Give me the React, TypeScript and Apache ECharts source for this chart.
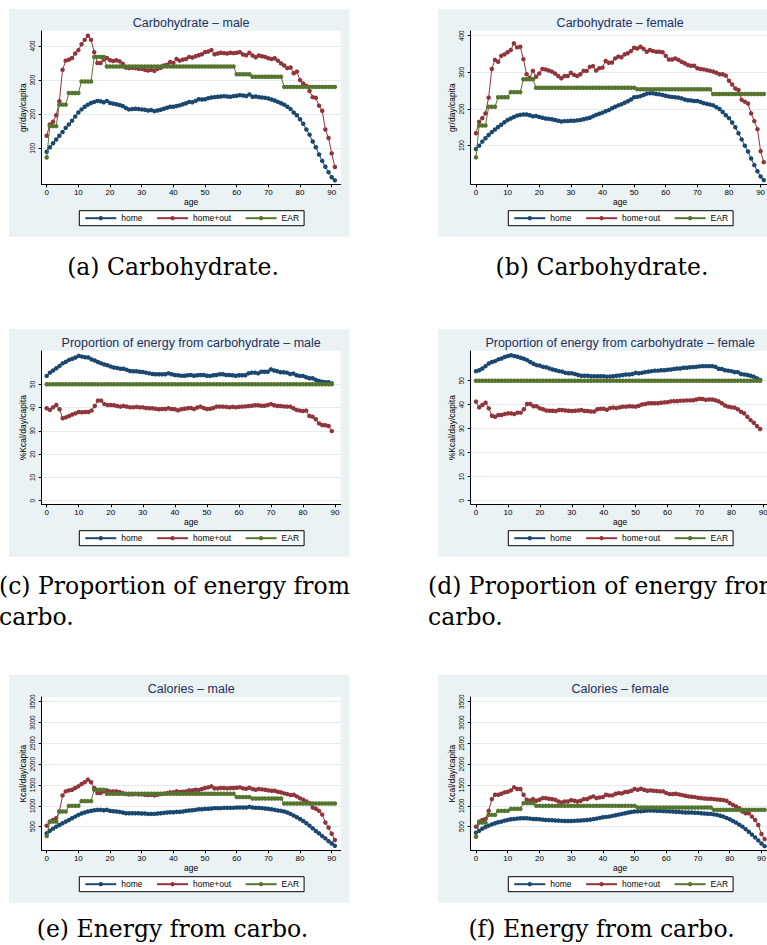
import React, { useEffect, useRef } from "react";
import * as echarts from "echarts";

// ---------------- DATA ----------------
const AGES = [0,1,2,3,4,5,6,7,8,9,10,11,12,13,14,15,16,17,18,19,20,21,22,23,24,25,26,27,28,29,30,31,32,33,34,35,36,37,38,39,40,41,42,43,44,45,46,47,48,49,50,51,52,53,54,55,56,57,58,59,60,61,62,63,64,65,66,67,68,69,70,71,72,73,74,75,76,77,78,79,80,81,82,83,84,85,86,87,88,89,90,91];
const X_TICKS = [0,10,20,30,40,50,60,70,80,90];
const Y_TICKS_CARB = [100,200,300,400];
const Y_TICKS_PROP = [0,10,20,30,40,50];
const Y_TICKS_KCAL = [500,1000,1500,2000,2500,3000,3500];
const LEGEND_NAMES = ["home","home+out","EAR"];

// (a) Carbohydrate - male (g/day/capita)
const HOME_A = [90,103,115,126,137,148,160,170,181,193,205,214,222,228,233,236,239,238,235,239,233,231,229,227,224,218,214,215,216,215,214,213,211,212,209,211,213,216,219,222,222,224,226,229,232,236,235,239,244,243,244,247,249,250,251,252,253,252,251,253,254,256,255,253,258,251,252,250,249,248,246,243,240,236,232,228,222,215,205,197,185,172,155,140,120,103,82,63,46,30,15,6];
const OUT_A = [137,170,178,197,238,330,357,360,365,378,388,405,418,430,418,382,350,350,360,365,358,356,358,355,348,337,335,336,335,333,333,330,328,330,327,333,336,343,345,353,350,362,357,360,362,368,366,370,373,376,382,384,388,376,378,380,379,378,380,379,380,382,375,373,380,372,367,372,370,368,364,362,364,357,349,343,335,337,320,325,300,290,283,268,250,248,225,210,155,130,85,45];
const EAR_A = [73,165,165,165,228,228,228,262,262,262,262,296,296,296,296,368,368,368,368,340,340,340,340,340,340,340,340,340,340,340,340,340,340,340,340,340,340,340,340,340,340,340,340,340,340,340,340,340,340,340,340,340,340,340,340,340,340,340,340,340,317,317,317,317,317,310,310,310,310,310,310,310,310,310,310,280,280,280,280,280,280,280,280,280,280,280,280,280,280,280,280,280];

// (b) Carbohydrate - female
const HOME_B = [91,100,111,120,129,137,144,151,157,164,170,174,178,182,184,185,185,183,180,181,178,176,174,173,172,170,168,166,167,167,168,168,169,170,172,174,176,180,184,187,190,194,197,202,206,210,213,217,221,226,232,233,235,238,242,243,243,241,240,238,236,234,233,232,231,229,226,224,223,222,222,219,216,214,212,210,205,200,192,183,175,163,150,134,117,100,84,65,47,30,16,6];
const OUT_B = [134,165,175,188,231,309,334,329,345,349,355,361,379,368,370,336,295,285,304,288,297,309,308,305,302,297,290,284,290,290,299,293,290,295,304,304,315,317,305,311,313,331,326,327,338,343,341,349,352,358,367,365,370,364,356,361,358,356,356,355,345,335,335,338,334,329,325,320,318,318,311,309,308,306,304,302,299,295,295,291,277,267,256,252,225,220,215,188,167,145,85,55];
const EAR_B = [68,155,155,155,206,206,206,232,232,232,232,246,246,246,246,281,281,281,281,258,258,258,258,258,258,258,258,258,258,258,258,258,258,258,258,258,258,258,258,258,258,258,258,258,258,258,258,258,258,258,258,254,254,254,254,254,254,254,254,254,254,254,254,254,254,254,254,254,254,254,254,254,254,254,254,241,241,241,241,241,241,241,241,241,241,241,241,241,241,241,241,241];

// (c) Proportion of energy from carbohydrate - male (%)
const HOME_C = [53.6,55.0,55.9,56.9,57.9,59.0,59.7,60.5,61.0,61.5,62.2,61.9,61.6,61.5,60.7,60.2,59.6,59.0,58.5,58.2,57.6,57.2,57.0,56.7,56.7,56.2,55.7,55.6,55.6,55.4,55.3,55.0,54.7,54.4,54.3,54.3,54.3,54.3,54.7,54.3,54.0,53.9,53.7,53.7,53.9,54.0,53.7,53.9,54.0,54.0,53.7,53.6,53.9,54.0,54.3,54.3,54.0,54.0,53.9,53.7,53.9,53.9,53.9,54.7,55.0,55.0,54.7,55.4,55.4,55.4,56.4,55.9,55.6,55.2,55.2,55.0,54.4,54.6,53.9,53.6,53.6,53.0,52.6,52.6,51.9,51.4,51.1,50.9,50.9,50.4];
const OUT_C = [39.7,39.0,40.1,41.1,39.3,35.4,35.8,36.4,37.0,37.5,38.1,38.0,38.1,38.1,38.7,40.7,43.0,43.0,41.5,41.1,41.1,41.0,40.7,40.4,40.7,40.4,40.1,40.1,40.3,40.1,40.1,39.8,39.7,39.7,39.5,39.3,39.4,39.4,39.7,39.4,39.3,38.8,39.3,39.5,39.7,39.8,39.4,40.0,40.4,39.8,39.4,39.5,39.8,40.4,40.4,40.4,40.3,40.1,40.3,40.1,40.3,40.4,40.5,40.7,40.8,41.0,41.0,40.8,40.8,41.1,41.5,41.0,40.7,40.7,40.5,40.4,40.4,39.7,39.0,38.7,38.5,38.7,36.4,36.1,35.0,33.2,32.5,32.4,32.1,29.9];
const EAR_C = [50,50,50,50,50,50,50,50,50,50,50,50,50,50,50,50,50,50,50,50,50,50,50,50,50,50,50,50,50,50,50,50,50,50,50,50,50,50,50,50,50,50,50,50,50,50,50,50,50,50,50,50,50,50,50,50,50,50,50,50,50,50,50,50,50,50,50,50,50,50,50,50,50,50,50,50,50,50,50,50,50,50,50,50,50,50,50,50,50,50];

// (d) Proportion of energy from carbohydrate - female
const HOME_D = [54.0,54.4,55.1,56.1,57.2,57.8,58.2,58.9,59.3,59.9,60.3,60.6,60.3,60.0,59.6,59.2,58.6,57.8,57.1,56.5,56.3,55.8,55.6,55.1,54.7,54.4,54.0,53.8,53.3,53.1,53.1,52.8,52.4,52.1,52.1,52.1,51.9,51.9,51.9,51.9,51.9,51.7,51.8,51.9,52.1,52.2,52.4,52.6,52.6,52.8,53.3,53.1,53.3,53.6,53.8,54.0,54.2,54.2,54.4,54.4,54.6,54.7,54.9,55.1,55.1,55.4,55.4,55.6,55.7,55.8,56.0,56.1,56.1,56.1,56.1,55.8,55.0,54.9,54.4,54.2,54.0,53.6,53.6,52.8,52.6,52.4,52.1,51.7,51.0,50.3];
const OUT_D = [41.3,38.9,39.9,40.8,38.5,35.4,35.0,35.7,35.7,36.1,36.4,36.4,36.1,36.7,36.7,38.1,40.3,40.3,39.4,39.4,38.5,38.1,37.6,37.5,37.5,37.4,37.8,37.8,37.6,37.5,37.4,37.5,37.6,37.8,37.4,37.4,37.2,37.2,38.1,38.3,38.3,37.9,38.6,38.8,38.6,38.9,39.2,39.2,39.4,39.3,39.2,39.6,40.1,40.3,40.6,40.6,40.6,40.6,40.8,41.0,41.1,41.4,41.5,41.5,41.7,41.7,41.8,41.8,41.9,42.2,42.5,42.4,42.1,42.2,42.2,41.9,41.4,40.6,39.7,39.2,38.9,38.8,38.1,37.1,36.4,35.0,33.6,32.5,31.1,29.9];
const EAR_D = [50,50,50,50,50,50,50,50,50,50,50,50,50,50,50,50,50,50,50,50,50,50,50,50,50,50,50,50,50,50,50,50,50,50,50,50,50,50,50,50,50,50,50,50,50,50,50,50,50,50,50,50,50,50,50,50,50,50,50,50,50,50,50,50,50,50,50,50,50,50,50,50,50,50,50,50,50,50,50,50,50,50,50,50,50,50,50,50,50,50];

// (e) Calories - male (Kcal/day/capita)
const HOME_E = [339,403,452,500,540,581,621,661,702,742,782,815,839,863,879,895,903,903,895,903,879,871,863,855,839,823,823,823,823,823,815,815,806,806,806,815,823,831,839,847,847,855,855,863,879,887,895,903,919,919,927,927,935,944,944,944,952,952,952,952,960,960,960,960,976,960,952,952,944,935,927,919,903,887,879,863,839,806,766,726,685,637,581,524,460,395,339,274,218,153,97,40];
const OUT_E = [524,621,661,702,863,1250,1347,1371,1387,1427,1468,1524,1565,1629,1565,1427,1306,1306,1347,1371,1347,1347,1347,1331,1306,1282,1274,1274,1282,1274,1274,1266,1258,1266,1250,1266,1282,1290,1306,1323,1323,1347,1331,1339,1347,1371,1371,1387,1379,1403,1427,1444,1468,1419,1419,1427,1427,1419,1427,1427,1435,1444,1419,1411,1435,1403,1387,1403,1395,1387,1371,1363,1363,1339,1323,1298,1282,1258,1266,1226,1180,1145,1105,1065,960,930,880,790,600,480,330,180];
const EAR_E = [274,621,621,621,863,863,863,1000,1000,1000,1000,1113,1113,1113,1113,1387,1387,1387,1387,1290,1290,1290,1290,1290,1290,1290,1290,1290,1290,1290,1290,1290,1290,1290,1290,1290,1290,1290,1290,1290,1290,1290,1290,1290,1290,1290,1290,1290,1290,1290,1290,1290,1290,1290,1290,1290,1290,1290,1290,1290,1210,1210,1210,1210,1210,1177,1177,1177,1177,1177,1177,1177,1177,1177,1177,1056,1056,1056,1056,1056,1056,1056,1056,1056,1056,1056,1056,1056,1056,1056,1056,1056];

// (f) Calories - female
const HOME_F = [355,403,452,492,524,556,581,605,621,645,661,677,685,694,702,702,702,694,685,685,677,669,661,657,653,649,645,640,637,637,637,640,645,649,653,661,669,681,694,710,726,734,742,758,774,790,806,823,839,851,863,867,871,879,887,887,887,883,879,875,871,867,863,859,855,847,839,839,839,835,831,823,815,810,806,794,782,762,742,710,677,637,597,548,500,440,379,310,242,170,97,32];
const OUT_F = [500,621,661,685,879,1161,1266,1266,1290,1323,1339,1371,1444,1403,1403,1266,1145,1129,1161,1121,1145,1185,1185,1169,1161,1145,1105,1081,1105,1105,1137,1121,1105,1121,1161,1161,1202,1226,1185,1202,1210,1266,1250,1250,1290,1306,1298,1331,1339,1363,1403,1387,1411,1387,1363,1371,1363,1355,1347,1347,1306,1282,1282,1290,1274,1258,1242,1226,1218,1210,1194,1185,1177,1169,1169,1161,1153,1145,1137,1121,1065,1024,984,944,863,823,823,742,661,540,323,202];
const EAR_F = [258,597,597,597,782,782,782,879,879,879,879,927,927,927,927,1065,1065,1065,1065,1000,1000,1000,1000,1000,1000,1000,1000,1000,1000,1000,1000,1000,1000,1000,1000,1000,1000,1000,1000,1000,1000,1000,1000,1000,1000,1000,1000,1000,1000,1000,1000,960,960,960,960,960,960,960,960,960,960,960,960,960,960,960,960,960,960,960,960,960,960,960,960,903,903,903,903,903,903,903,903,903,903,903,903,903,903,903,903,903];

const TITLES = [
  "Carbohydrate \u2013 male",
  "Carbohydrate \u2013 female",
  "Proportion of energy from carbohydrate \u2013 male",
  "Proportion of energy from carbohydrate \u2013 female",
  "Calories \u2013 male",
  "Calories \u2013 female",
];
const Y_NAMES = ["gr/day/capita","gr/day/capita","%Kcal/day/capita","%Kcal/day/capita","Kcal/day/capita","Kcal/day/capita"];
const CAPTIONS = ["(a) Carbohydrate.","(b) Carbohydrate.","(c) Proportion of energy from","(d) Proportion of energy from","(e) Energy from carbo.","(f) Energy from carbo."];
const CAPTION_CONT = "carbo.";

// ---------------- STYLE / LAYOUT ----------------
const SANS = "'Liberation Sans', Arial, Helvetica, sans-serif";
const SERIF = "'DejaVu Serif', 'Liberation Serif', serif";
const NAVY = "#1a476f";
const MAROON = "#90353b";
const GREEN = "#55752f";
const BG = "#eaf2f3";

type PanelCfg = {
  dx: number; dy: number;
  xMin: number; xMax: number; yMin: number; yMax: number;
  yTicks: number[]; ages: number[];
  home: number[]; out: number[]; ear: number[];
};

const PANELS: PanelCfg[] = [
  { dx: 0, dy: 0, xMin: -1.58, xMax: 92.84, yMin: -5.6, yMax: 444, yTicks: Y_TICKS_CARB, ages: AGES, home: HOME_A, out: OUT_A, ear: EAR_A },
  { dx: 429, dy: 0, xMin: -1.67, xMax: 92.87, yMin: -5.45, yMax: 412.8, yTicks: Y_TICKS_CARB, ages: AGES, home: HOME_B, out: OUT_B, ear: EAR_B },
  { dx: 0, dy: 320, xMin: -1.56, xMax: 91.78, yMin: -1.55, yMax: 64.3, yTicks: Y_TICKS_PROP, ages: AGES.slice(0, 90), home: HOME_C, out: OUT_C, ear: EAR_C },
  { dx: 429, dy: 320, xMin: -1.66, xMax: 92.0, yMin: -1.5, yMax: 62.4, yTicks: Y_TICKS_PROP, ages: AGES.slice(0, 90), home: HOME_D, out: OUT_D, ear: EAR_D },
  { dx: 0, dy: 666, xMin: -1.58, xMax: 92.84, yMin: -67, yMax: 3612, yTicks: Y_TICKS_KCAL, ages: AGES, home: HOME_E, out: OUT_E, ear: EAR_E },
  { dx: 429, dy: 666, xMin: -1.67, xMax: 92.6, yMin: -67, yMax: 3612, yTicks: Y_TICKS_KCAL, ages: AGES, home: HOME_F, out: OUT_F, ear: EAR_F },
];

const plain = (v: number) => String(v);

function buildOption() {
  const grid: any[] = [];
  const xAxis: any[] = [];
  const yAxis: any[] = [];
  const series: any[] = [];
  const legend: any[] = [];
  const graphic: any[] = [];

  PANELS.forEach((p, i) => {
    graphic.push({ type: "rect", z: -10, shape: { x: 9 + p.dx, y: 9 + p.dy, width: 340.3, height: 227.7 }, style: { fill: BG } });
    graphic.push({ type: "text", x: 191.2 + p.dx, y: 23.3 + p.dy, style: { text: TITLES[i], fill: "#1e2f5f", fontSize: 12.5, fontFamily: SANS, align: "center", verticalAlign: "middle" } });

    grid.push({ left: 41.7 + p.dx, top: 31 + p.dy, width: 299, height: 153.3, show: true, backgroundColor: "#ffffff", borderWidth: 0, outerBoundsMode: "none", containLabel: false });

    xAxis.push({
      type: "value", gridIndex: i, min: p.xMin, max: p.xMax,
      name: "age", nameLocation: "middle", nameGap: 12.5,
      nameTextStyle: { fontSize: 8.5, fontFamily: SANS, color: "#000" },
      axisLine: { show: true, onZero: false, lineStyle: { color: "#000", width: 1 } },
      axisTick: { show: true, length: 3, customValues: X_TICKS, lineStyle: { color: "#000" } },
      axisLabel: { customValues: X_TICKS, formatter: plain, fontSize: 8, fontFamily: SANS, color: "#000", margin: 4.5 },
      splitLine: { show: false },
    });
    yAxis.push({
      type: "value", gridIndex: i, min: p.yMin, max: p.yMax,
      name: Y_NAMES[i], nameLocation: "middle", nameGap: 14,
      nameTextStyle: { fontSize: 8.5, fontFamily: SANS, color: "#000" },
      axisLine: { show: true, onZero: false, lineStyle: { color: "#000", width: 1 } },
      axisTick: { show: true, length: 3, customValues: p.yTicks, lineStyle: { color: "#000" } },
      axisLabel: { customValues: p.yTicks, formatter: plain, rotate: 90, fontSize: 6.5, fontFamily: SANS, color: "#000", margin: 6 },
      splitLine: { show: true, lineStyle: { color: "#e4ecee", width: 1 } },
    });

    const mk = (name: string, vals: number[], color: string, z: number) => ({
      type: "line", name, xAxisIndex: i, yAxisIndex: i, z,
      data: p.ages.map((a, k) => [a, vals[k]]),
      symbol: "circle", symbolSize: 4.5, showSymbol: true,
      lineStyle: { color, width: 1 }, itemStyle: { color },
      emphasis: { disabled: true },
    });
    series.push(mk("home", p.home, NAVY, 2));
    series.push(mk("home+out", p.out, MAROON, 3));
    series.push(mk("EAR", p.ear, GREEN, 4));

    legend.push({
      data: LEGEND_NAMES, left: 79.3 + p.dx, top: 210.7 + p.dy, orient: "horizontal",
      itemWidth: 31, itemHeight: 5.5, itemGap: 13.5, padding: [3, 5],
      borderColor: "#000", borderWidth: 1, backgroundColor: "#fff",
      textStyle: { fontSize: 8.5, fontFamily: SANS, color: "#000" },
      selectedMode: false,
    });
  });

  const capStyle = { fill: "#000", fontSize: 23.5, fontFamily: SERIF, verticalAlign: "middle" };
  graphic.push({ type: "text", x: 173, y: 267, style: { ...capStyle, text: CAPTIONS[0], align: "center" } });
  graphic.push({ type: "text", x: 602, y: 267, style: { ...capStyle, text: CAPTIONS[1], align: "center" } });
  graphic.push({ type: "text", x: -1, y: 586, style: { ...capStyle, text: CAPTIONS[2], align: "left" } });
  graphic.push({ type: "text", x: -1, y: 617, style: { ...capStyle, text: CAPTION_CONT, align: "left" } });
  graphic.push({ type: "text", x: 428, y: 586, style: { ...capStyle, text: CAPTIONS[3], align: "left" } });
  graphic.push({ type: "text", x: 428, y: 617, style: { ...capStyle, text: CAPTION_CONT, align: "left" } });
  graphic.push({ type: "text", x: 172.5, y: 929, style: { ...capStyle, text: CAPTIONS[4], align: "center" } });
  graphic.push({ type: "text", x: 601.5, y: 929, style: { ...capStyle, text: CAPTIONS[5], align: "center" } });

  return { animation: false, backgroundColor: "#ffffff", grid, xAxis, yAxis, series, legend, graphic };
}

export default function App() {
  const ref = useRef<HTMLDivElement>(null);
  useEffect(() => {
    if (!ref.current) return;
    const chart = echarts.init(ref.current, undefined, { renderer: "svg" });
    chart.setOption(buildOption() as any);
    return () => chart.dispose();
  }, []);
  return (
    <div style={{ position: "absolute", left: 0, top: 0, width: 767, height: 945, overflow: "hidden", background: "#fff" }}>
      <div ref={ref} style={{ width: 800, height: 945 }} />
    </div>
  );
}
